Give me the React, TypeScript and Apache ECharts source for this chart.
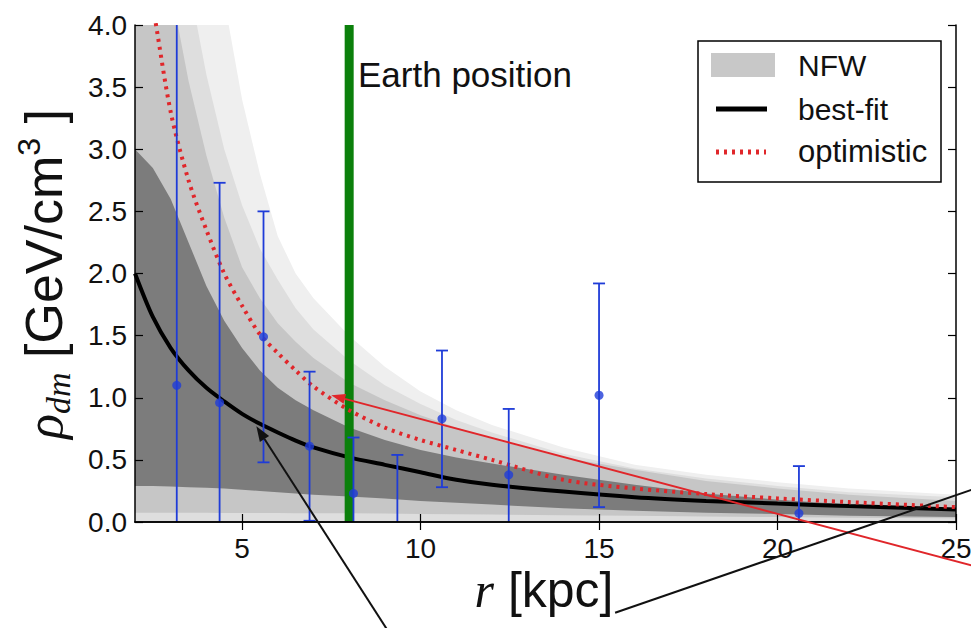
import React, { useEffect, useRef } from "react";
import * as echarts from "echarts";

// Galactocentric radius grid (kpc) on which the profiles are tabulated
const R = [2, 2.5, 3, 3.5, 4, 4.5, 5, 5.5, 6, 6.5, 7, 8, 9, 10, 11, 12, 14, 16, 18, 20, 22, 25];

// best-fit NFW profile (GeV/cm^3)
const bestFit = [2.0, 1.65, 1.4, 1.22, 1.08, 0.97, 0.87, 0.79, 0.72, 0.655, 0.6, 0.52, 0.46, 0.4, 0.34, 0.3, 0.245, 0.2, 0.17, 0.148, 0.128, 0.1];
// optimistic profile
const optimistic = [4.9, 4.15, 3.3, 2.75, 2.35, 2.0, 1.74, 1.51, 1.36, 1.22, 1.09, 0.9, 0.76, 0.66, 0.58, 0.5, 0.34, 0.27, 0.225, 0.19, 0.16, 0.12];

// NFW uncertainty bands, outermost to innermost
const band1Lo = [0, 0, 0, 0, 0, 0, 0, 0, 0, 0, 0, 0, 0, 0, 0, 0, 0, 0, 0, 0, 0, 0];
const band1Hi = [12, 9.5, 7.8, 6.5, 5.3, 4.2, 3.4, 2.8, 2.3, 2.0, 1.8, 1.5, 1.25, 1.05, 0.9, 0.78, 0.6, 0.46, 0.38, 0.32, 0.27, 0.22];
const band2Lo = [0, 0, 0, 0, 0, 0, 0, 0, 0, 0, 0, 0, 0, 0, 0, 0, 0, 0, 0, 0, 0, 0];
const band2Hi = [8, 6.5, 5.3, 4.35, 3.6, 3.0, 2.55, 2.2, 1.95, 1.72, 1.55, 1.3, 1.1, 0.95, 0.82, 0.72, 0.55, 0.43, 0.35, 0.29, 0.24, 0.2];
const band3Lo = [0.075, 0.075, 0.075, 0.074, 0.074, 0.073, 0.073, 0.072, 0.072, 0.071, 0.071, 0.07, 0.068, 0.065, 0.062, 0.06, 0.055, 0.05, 0.045, 0.04, 0.035, 0.03];
const band3Hi = [5.6, 4.9, 4.3, 3.55, 2.95, 2.45, 2.05, 1.8, 1.6, 1.45, 1.32, 1.12, 0.98, 0.86, 0.76, 0.67, 0.52, 0.42, 0.33, 0.27, 0.22, 0.17];
const band4Lo = [0.29, 0.29, 0.285, 0.28, 0.275, 0.27, 0.26, 0.25, 0.24, 0.23, 0.22, 0.205, 0.19, 0.17, 0.155, 0.14, 0.11, 0.09, 0.075, 0.065, 0.05, 0.04];
const band4Hi = [3.0, 2.85, 2.6, 2.25, 1.9, 1.62, 1.4, 1.22, 1.08, 0.98, 0.9, 0.76, 0.66, 0.58, 0.52, 0.47, 0.38, 0.3, 0.23, 0.18, 0.14, 0.11];

// rotation-curve derived density estimates with 1-sigma errors
const pointR = [3.17, 4.37, 5.6, 6.89, 8.12, 9.35, 10.6, 12.47, 15.0, 20.6];
const pointRho = [1.1, 0.96, 1.49, 0.61, 0.23, -0.1, 0.83, 0.38, 1.02, 0.07];
const pointErr = [3.3, 1.77, 1.01, 0.6, 0.45, 0.64, 0.55, 0.53, 0.9, 0.38];

const earthR = 8.0;
const xTicks = [5, 10, 15, 20, 25];

const FONT = "'Liberation Sans', Arial, Helvetica, sans-serif";
const SERIF = "'Liberation Serif', 'Times New Roman', serif";
const BLUE = "#1f3cd8";
const RED = "#e0262a";

function bandSeries(lo: number[], hi: number[], color: string, z: number) {
  return {
    type: "custom",
    silent: true,
    clip: true,
    z,
    data: [[R[0], lo[0]]],
    renderItem: (_params: any, api: any) => {
      const pts: number[][] = [];
      for (let i = 0; i < R.length; i++) pts.push(api.coord([R[i], hi[i]]));
      for (let i = R.length - 1; i >= 0; i--) pts.push(api.coord([R[i], lo[i]]));
      return { type: "polygon", shape: { points: pts }, style: { fill: color } };
    },
  };
}

function arrow(tail: number[], tip: number[], color: string, width: number, headLen: number, headW: number, head: boolean) {
  const dx = tip[0] - tail[0];
  const dy = tip[1] - tail[1];
  const L = Math.hypot(dx, dy);
  const ux = dx / L;
  const uy = dy / L;
  const nx = -uy;
  const ny = ux;
  const bx = head ? tip[0] - ux * headLen : tip[0];
  const by = head ? tip[1] - uy * headLen : tip[1];
  const parts: any[] = [
    { type: "line", z: 100, shape: { x1: tail[0], y1: tail[1], x2: bx, y2: by }, style: { stroke: color, lineWidth: width } },
  ];
  if (head) {
    parts.push({
      type: "polygon",
      z: 100,
      shape: {
        points: [
          [tip[0], tip[1]],
          [bx + (nx * headW) / 2, by + (ny * headW) / 2],
          [bx - (nx * headW) / 2, by - (ny * headW) / 2],
        ],
      },
      style: { fill: color },
    });
  }
  return parts;
}

export default function App() {
  const ref = useRef<HTMLDivElement>(null);

  useEffect(() => {
    if (!ref.current) return;
    const chart = echarts.init(ref.current, undefined, { renderer: "svg" });

    const axisLine = { show: true, lineStyle: { color: "#000", width: 1.5 } };
    const tickStyle = { color: "#000", width: 1.2 };

    const option: any = {
      animation: false,
      backgroundColor: "#fff",
      grid: { left: 135, right: 15, top: 25, bottom: 106, outerBoundsMode: "none" },
      xAxis: [
        {
          type: "value", min: 2, max: 25, position: "bottom", z: 10,
          axisLine,
          axisTick: { inside: true, length: 8, customValues: xTicks, lineStyle: tickStyle },
          axisLabel: { customValues: xTicks, fontSize: 28, color: "#111", margin: 12, fontFamily: FONT },
          splitLine: { show: false },
        },
        {
          type: "value", min: 2, max: 25, position: "top", z: 10,
          axisLine,
          axisTick: { inside: true, length: 8, customValues: xTicks, lineStyle: tickStyle },
          axisLabel: { show: false },
          splitLine: { show: false },
        },
      ],
      yAxis: [
        {
          type: "value", min: 0, max: 4, interval: 0.5, position: "left", z: 10,
          axisLine,
          axisTick: { inside: true, length: 8, lineStyle: tickStyle },
          axisLabel: { fontSize: 28, color: "#111", margin: 8, fontFamily: FONT, formatter: (v: number) => v.toFixed(1) },
          splitLine: { show: false },
        },
        {
          type: "value", min: 0, max: 4, interval: 0.5, position: "right", z: 10,
          axisLine,
          axisTick: { inside: true, length: 8, lineStyle: tickStyle },
          axisLabel: { show: false },
          splitLine: { show: false },
        },
      ],
      series: [
        bandSeries(band1Lo, band1Hi, "#efefef", 1),
        bandSeries(band2Lo, band2Hi, "#dedede", 1),
        bandSeries(band3Lo, band3Hi, "#c6c6c6", 1),
        bandSeries(band4Lo, band4Hi, "#7c7c7c", 1),
        {
          name: "best-fit", type: "line", z: 3, symbol: "none", smooth: 0.3, clip: true,
          data: R.map((r, i) => [r, bestFit[i]]),
          lineStyle: { color: "#000", width: 4 },
        },
        {
          name: "Earth", type: "line", z: 4, symbol: "none", silent: true,
          data: [[earthR, 0], [earthR, 4]],
          lineStyle: { color: "#0b800b", width: 9 },
        },
        {
          name: "optimistic", type: "line", z: 5, symbol: "none", smooth: 0.3, clip: true,
          data: R.map((r, i) => [r, optimistic[i]]),
          lineStyle: { color: RED, width: 4, type: [3, 5] },
        },
        {
          type: "custom", z: 6, clip: true, silent: true,
          dimensions: ["r", "rho", "lo", "hi"],
          encode: { x: "r", y: "rho" },
          data: pointR.map((r, i) => [r, pointRho[i], pointRho[i] - pointErr[i], pointRho[i] + pointErr[i]]),
          renderItem: (_p: any, api: any) => {
            const r = api.value(0);
            const top = api.coord([r, api.value(3)]);
            const bot = api.coord([r, api.value(2)]);
            const cap = 6;
            const st = { stroke: BLUE, lineWidth: 1.8 };
            return {
              type: "group",
              children: [
                { type: "line", shape: { x1: top[0], y1: top[1], x2: bot[0], y2: bot[1] }, style: st },
                { type: "line", shape: { x1: top[0] - cap, y1: top[1], x2: top[0] + cap, y2: top[1] }, style: st },
                { type: "line", shape: { x1: bot[0] - cap, y1: bot[1], x2: bot[0] + cap, y2: bot[1] }, style: st },
              ],
            };
          },
        },
        {
          type: "scatter", z: 7, symbolSize: 9, clip: true,
          itemStyle: { color: BLUE },
          data: pointR.map((r, i) => [r, pointRho[i]]),
        },
      ],
    };
    chart.setOption(option);

    const px = (p: number[]) => chart.convertToPixel({ xAxisIndex: 0, yAxisIndex: 0 }, p) as number[];

    const graphic: any[] = [
      // Earth label
      {
        type: "text", z: 100, x: 358, y: 74,
        style: { text: "Earth position", fontSize: 35, fontFamily: FONT, fill: "#111", align: "left", verticalAlign: "middle" },
      },
      // y-axis title
      {
        type: "text", z: 100, x: 44, y: 274, rotation: Math.PI / 2,
        style: {
          text: "{g|ρ}{s|dm} [GeV/cm{p|3} ]",
          fontSize: 52, fontFamily: FONT, fill: "#111", align: "center", verticalAlign: "middle",
          rich: {
            g: { fontSize: 52, fontFamily: SERIF, fontStyle: "italic", lineHeight: 62 },
            s: { fontSize: 34, fontFamily: SERIF, fontStyle: "italic", lineHeight: 22, verticalAlign: "bottom" },
            p: { fontSize: 32, fontFamily: FONT, lineHeight: 22, verticalAlign: "top" },
          },
        },
      },
      // x-axis title
      {
        type: "text", z: 100, x: 544, y: 590,
        style: {
          text: "{r|r} [kpc]",
          fontSize: 50, fontFamily: FONT, fill: "#111", align: "center", verticalAlign: "middle",
          rich: { r: { fontSize: 50, fontFamily: SERIF, fontStyle: "italic" } },
        },
      },
      // legend
      { type: "rect", z: 100, shape: { x: 698, y: 41, width: 243, height: 141 }, style: { fill: "#fff", stroke: "#000", lineWidth: 1.5 } },
      { type: "rect", z: 101, shape: { x: 711, y: 53, width: 64, height: 24 }, style: { fill: "#c8c8c8" } },
      { type: "line", z: 101, shape: { x1: 716, y1: 109, x2: 767, y2: 109 }, style: { stroke: "#000", lineWidth: 5 } },
      { type: "line", z: 101, shape: { x1: 716, y1: 152, x2: 766, y2: 152 }, style: { stroke: RED, lineWidth: 5, lineDash: [3, 5] } },
      { type: "text", z: 101, x: 798, y: 65, style: { text: "NFW", fontSize: 30, fontFamily: FONT, fill: "#111", verticalAlign: "middle" } },
      { type: "text", z: 101, x: 798, y: 109, style: { text: "best-fit", fontSize: 30, fontFamily: FONT, fill: "#111", verticalAlign: "middle" } },
      { type: "text", z: 101, x: 798, y: 151, style: { text: "optimistic", fontSize: 31, fontFamily: FONT, fill: "#111", verticalAlign: "middle" } },
    ];

    // pointer arrows towards the profiles
    graphic.push(...arrow(px([9.05, -0.86]), px([5.4, 0.77]), "#111", 2, 15, 11, true));
    graphic.push(...arrow(px([25.45, -0.35]), px([7.5, 1.02]), RED, 2, 14, 10, true));
    graphic.push(...arrow(px([15.45, -0.73]), px([25.45, 0.26]), "#111", 2, 0, 0, false));

    chart.setOption({ graphic });

    return () => chart.dispose();
  }, []);

  return (
    <div
      ref={ref}
      style={{ position: "fixed", left: 0, top: 0, width: 971, height: 628, background: "#fff" }}
    />
  );
}
